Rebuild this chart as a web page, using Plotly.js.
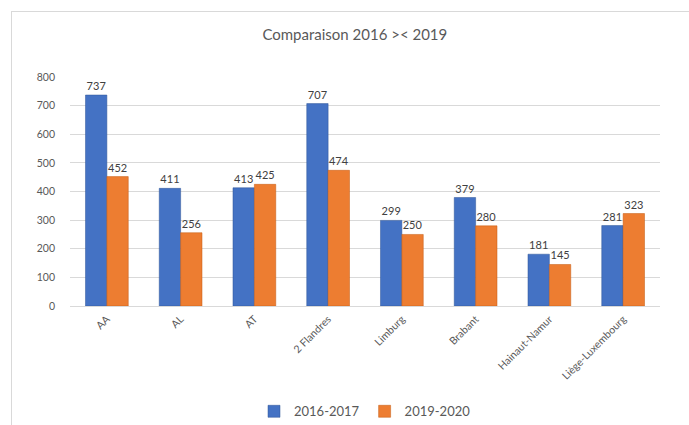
<!DOCTYPE html>
<html>
<head>
<meta charset="utf-8">
<script src="https://cdn.plot.ly/plotly-3.0.1.min.js"></script>
<style>
  html, body { margin: 0; padding: 0; background: #fff; }
  #wrap { position: relative; width: 689px; height: 425px; overflow: hidden; }
  #chart { position: absolute; left: 0; top: 0; width: 689px; height: 425px; }
  #frame { position: absolute; left: 11px; top: 11px; width: 700px; height: 430px;
           border-left: 1px solid #d9d9d9; border-top: 1px solid #d9d9d9; pointer-events: none; }
</style>
</head>
<body>
<div id="wrap">
  <div id="chart"></div>
  <div id="frame"></div>
</div>
<script>
const categories = ["AA", "AL", "AT", "2 Flandres", "Limburg", "Brabant", "Hainaut-Namur", "Liège-Luxembourg"];
const series1Name = "2016-2017";
const series1 = [737, 411, 413, 707, 299, 379, 181, 281];
const series2Name = "2019-2020";
const series2 = [452, 256, 425, 474, 250, 280, 145, 323];
const yTicks = [0, 100, 200, 300, 400, 500, 600, 700, 800];

const fontFam = "Lato, 'Open Sans', 'Liberation Sans', sans-serif";

const traces = [
  {
    type: "bar", name: series1Name, x: categories, y: series1,
    marker: { color: "#4472C4", line: { color: "#2F5597", width: 0.5 } },
    text: series1.map(String), textposition: "outside", cliponaxis: false,
    textfont: { family: fontFam, size: 11, color: "#404040" }
  },
  {
    type: "bar", name: series2Name, x: categories, y: series2,
    marker: { color: "#ED7D31", line: { color: "#C55A11", width: 0.5 } },
    text: series2.map(String), textposition: "outside", cliponaxis: false,
    textfont: { family: fontFam, size: 11, color: "#404040" }
  }
];

const layout = {
  width: 689, height: 425,
  margin: { l: 70, r: 29, t: 77, b: 119, autoexpand: false },
  paper_bgcolor: "#ffffff", plot_bgcolor: "#ffffff",
  font: { family: fontFam, color: "#595959" },
  title: { text: "Comparaison 2016 >< 2019", x: 0.515, xanchor: "center", y: 0.918, yanchor: "middle",
           font: { family: fontFam, size: 15, color: "#595959" } },
  barmode: "group", bargap: 0.42, bargroupgap: 0,
  xaxis: {
    type: "category", tickangle: -45, showgrid: false, zeroline: false, automargin: false,
    showline: false, ticks: "", ticklabelstandoff: 4,
    tickfont: { family: fontFam, size: 10.5, color: "#595959" }
  },
  yaxis: {
    range: [0, 800], tickvals: yTicks, ticktext: yTicks.map(String), automargin: false,
    showgrid: true, gridcolor: "#d9d9d9", gridwidth: 1,
    zeroline: true, zerolinecolor: "#d9d9d9", showline: false, ticks: "",
    ticklabelstandoff: 14,
    tickfont: { family: fontFam, size: 10.5, color: "#595959" }
  },
  legend: {
    orientation: "h", x: 0.5, xanchor: "center", y: -0.46, yanchor: "middle",
    font: { family: fontFam, size: 13, color: "#595959" }, itemwidth: 30
  },
  showlegend: true
};

Plotly.newPlot("chart", traces, layout, { staticPlot: true, displayModeBar: false });
</script>
</body>
</html>
